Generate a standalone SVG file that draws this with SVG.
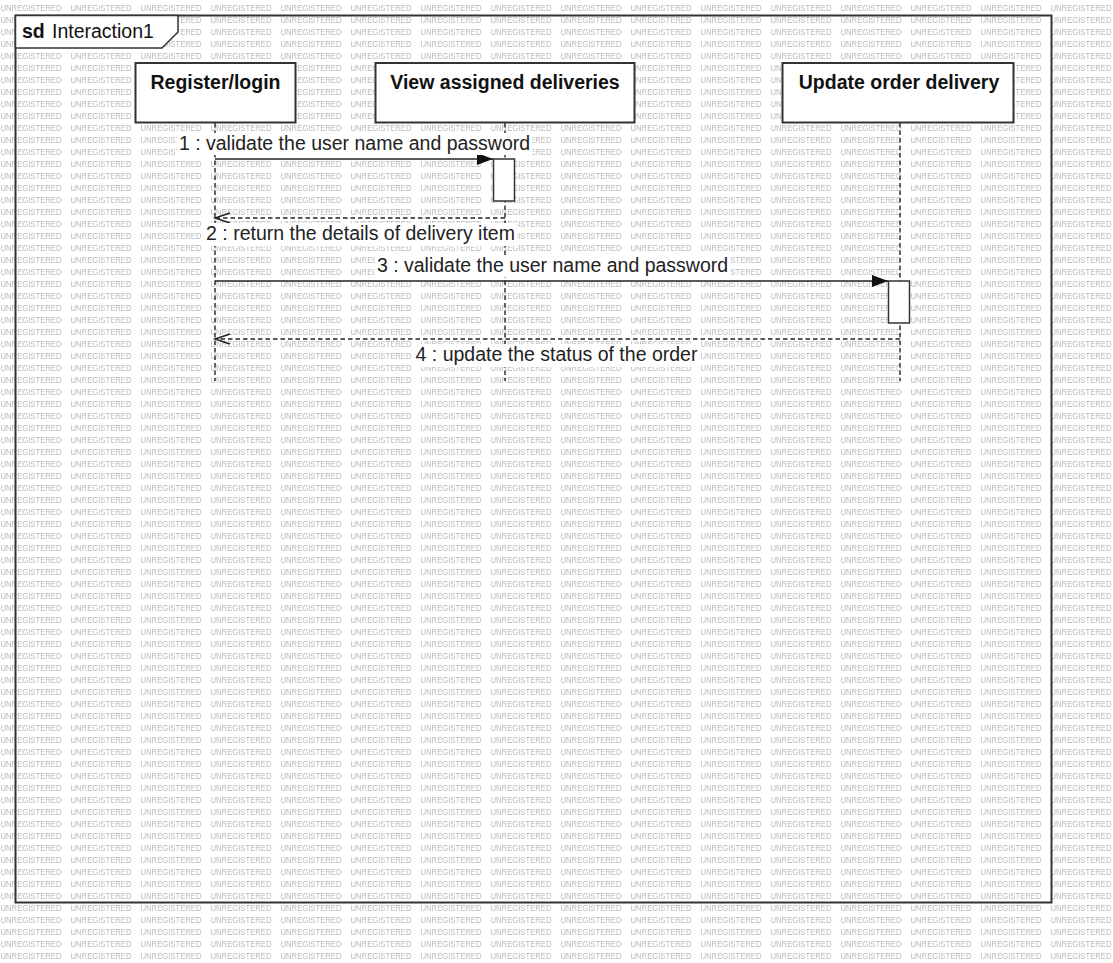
<svg xmlns="http://www.w3.org/2000/svg" width="1113" height="963" viewBox="0 0 1113 963">
  <style>
    .wm { font-family: "Liberation Sans", Arial, sans-serif; font-size: 8.5px; fill: #b9b9b9; }
    .frame { fill: none; stroke: #333; stroke-width: 2; }
    .hdr { fill: #fff; stroke: #333; stroke-width: 1.5; }
    .box { fill: #fff; stroke: #333; stroke-width: 2; }
    .title { font-family: "Liberation Sans", Arial, sans-serif; font-size: 19.5px; font-weight: bold; fill: #111; text-anchor: middle; }
    .sd { font-family: "Liberation Sans", Arial, sans-serif; font-size: 19.5px; fill: #111; }
    .life { stroke: #333; stroke-width: 1.5; stroke-dasharray: 4.5 3; fill: none; }
    .act { fill: #fff; stroke: #333; stroke-width: 1.5; }
    .call { stroke: #222; stroke-width: 1.5; fill: none; marker-end: url(#filled); }
    .ret { stroke: #222; stroke-width: 1.5; fill: none; stroke-dasharray: 4.5 3; marker-end: url(#open); }
    .lblbg { fill: #fff; }
    .lbl { font-family: "Liberation Sans", Arial, sans-serif; font-size: 19.5px; fill: #222; text-anchor: middle; }
  </style>
  <defs>
    <pattern id="wm" x="0" y="0" width="70" height="12" patternUnits="userSpaceOnUse">
      <text class="wm" x="0.5" y="11" textLength="61" lengthAdjust="spacingAndGlyphs">UNREGISTERED</text>
    </pattern>
    <marker id="filled" markerUnits="userSpaceOnUse" markerWidth="18" markerHeight="13" refX="16" refY="6" orient="auto" overflow="visible">
      <path d="M0,0 L16,6 L0,12 z" fill="#111"/>
    </marker>
    <marker id="open" markerUnits="userSpaceOnUse" markerWidth="17" markerHeight="12" refX="15" refY="5" orient="auto" overflow="visible">
      <path d="M0,0 L15,5 L0,10" fill="none" stroke="#222" stroke-width="1.5"/>
    </marker>
  </defs>

  <!-- background with tiled mark -->
  <rect width="1113" height="963" fill="#fff"/>
  <rect width="1113" height="963" fill="url(#wm)"/>

  <!-- interaction frame -->
  <g id="frame">
    <rect class="frame" x="15.5" y="15.5" width="1036" height="887"/>
    <polygon class="hdr" points="15.5,15.5 178,15.5 178,32 162,48 15.5,48"/>
    <text class="sd" x="22" y="38"><tspan font-weight="bold">sd</tspan><tspan x="52">Interaction1</tspan></text>
  </g>

  <!-- lifelines -->
  <g id="lifelines">
    <line class="life" x1="215" y1="123" x2="215" y2="381"/>
    <line class="life" x1="505" y1="123" x2="505" y2="381"/>
    <line class="life" x1="900" y1="123" x2="900" y2="381"/>
  </g>

  <g id="node-register">
    <rect class="box" x="135.5" y="63" width="160" height="59.5"/>
    <text class="title" x="215.5" y="89">Register/login</text>
  </g>
  <g id="node-view">
    <rect class="box" x="375.5" y="63" width="259" height="59.5"/>
    <text class="title" x="505" y="89">View assigned deliveries</text>
  </g>
  <g id="node-update">
    <rect class="box" x="782.5" y="63" width="231" height="59.5"/>
    <text class="title" x="899" y="89">Update order delivery</text>
  </g>

  <!-- activations -->
  <g id="activations">
    <rect class="act" x="493.5" y="159" width="21" height="42"/>
    <rect class="act" x="888.5" y="281" width="21" height="42"/>
  </g>

  <!-- messages -->
  <g id="connectors">
    <line class="call" x1="215" y1="159" x2="493" y2="159"/>
    <line class="ret" x1="505" y1="218" x2="215" y2="218"/>
    <line class="call" x1="215" y1="281" x2="888" y2="281"/>
    <line class="ret" x1="900" y1="339" x2="215" y2="339"/>
  </g>

  <!-- message labels -->
  <g id="labels">
    <rect class="lblbg" x="177" y="133" width="355" height="22"/>
    <text class="lbl" x="354.5" y="150">1 : validate the user name and password</text>
    <rect class="lblbg" x="204" y="223" width="313" height="23"/>
    <text class="lbl" x="360.5" y="240">2 : return the details of delivery item</text>
    <rect class="lblbg" x="375" y="255" width="355" height="22"/>
    <text class="lbl" x="552.5" y="272">3 : validate the user name and password</text>
    <rect class="lblbg" x="414" y="344" width="285" height="23"/>
    <text class="lbl" x="556.5" y="361">4 : update the status of the order</text>
  </g>
</svg>
